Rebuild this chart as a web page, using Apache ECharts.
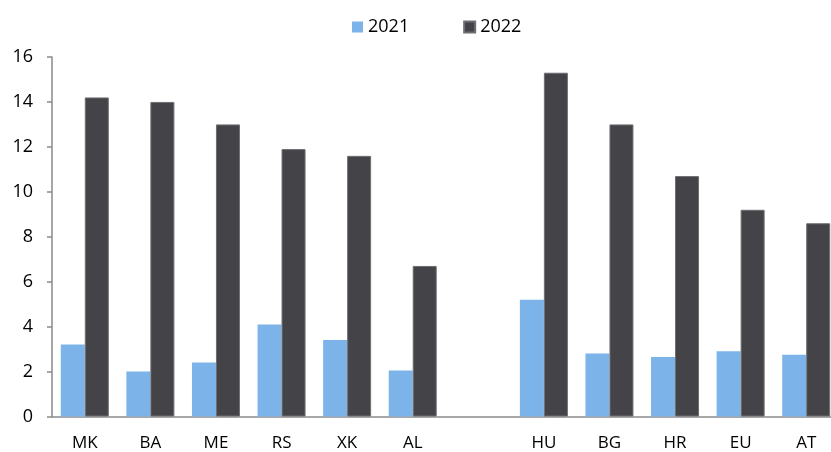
<!DOCTYPE html>
<html>
<head>
<meta charset="utf-8">
<script src="https://cdn.jsdelivr.net/npm/echarts@6/dist/echarts.min.js"></script>
<style>
  html, body { margin: 0; padding: 0; background: #fff; overflow: hidden; }
  #chart { width: 831px; height: 452px; }
</style>
</head>
<body>
<div id="chart"></div>
<script>
// Countries (blank slot separates the two groups)
const categories = ['MK', 'BA', 'ME', 'RS', 'XK', 'AL', '', 'HU', 'BG', 'HR', 'EU', 'AT'];
const values2021 = [3.2, 2.0, 2.4, 4.1, 3.4, 2.05, null, 5.2, 2.8, 2.65, 2.9, 2.75];
const values2022 = [14.2, 14.0, 13.0, 11.9, 11.6, 6.7, null, 15.3, 13.0, 10.7, 9.2, 8.6];
const yTicks = { min: 0, max: 16, interval: 2 };

const font = '"Open Sans", "Noto Sans", sans-serif';
const chart = echarts.init(document.getElementById('chart'), null, { renderer: 'canvas' });

chart.setOption({
  animation: false,
  legend: {
    top: 13,
    left: 347,
    itemWidth: 11,
    itemHeight: 11,
    itemGap: 54,
    icon: 'rect',
    textStyle: { fontFamily: font, fontSize: 18, color: '#000' },
    data: ['2021', '2022']
  },
  // plot runs slightly past the right edge of the canvas
  grid: { left: 52, width: 787, top: 57, bottom: 35.5, outerBoundsMode: 'none', containLabel: false },
  xAxis: {
    type: 'category',
    data: categories,
    axisLine: { lineStyle: { color: '#8a8a8a', width: 1.5 } },
    axisTick: { show: false },
    axisLabel: { color: '#000', fontFamily: font, fontSize: 17, margin: 18, interval: 0 }
  },
  yAxis: {
    type: 'value',
    min: yTicks.min,
    max: yTicks.max,
    interval: yTicks.interval,
    splitLine: { show: false },
    axisLine: { show: true, lineStyle: { color: '#8a8a8a', width: 1.5 } },
    axisTick: { show: true, length: 5, lineStyle: { color: '#8a8a8a', width: 1.5 } },
    axisLabel: { color: '#000', fontFamily: font, fontSize: 18, margin: 19 }
  },
  series: [
    {
      name: '2021',
      type: 'bar',
      data: values2021,
      barWidth: 24,
      barGap: '0%',
      itemStyle: { color: '#7cb4e9' }
    },
    {
      name: '2022',
      type: 'bar',
      data: values2022,
      barWidth: 24,
      itemStyle: { color: '#444348', borderColor: '#6e6e72', borderWidth: 1 }
    }
  ]
});
</script>
</body>
</html>
